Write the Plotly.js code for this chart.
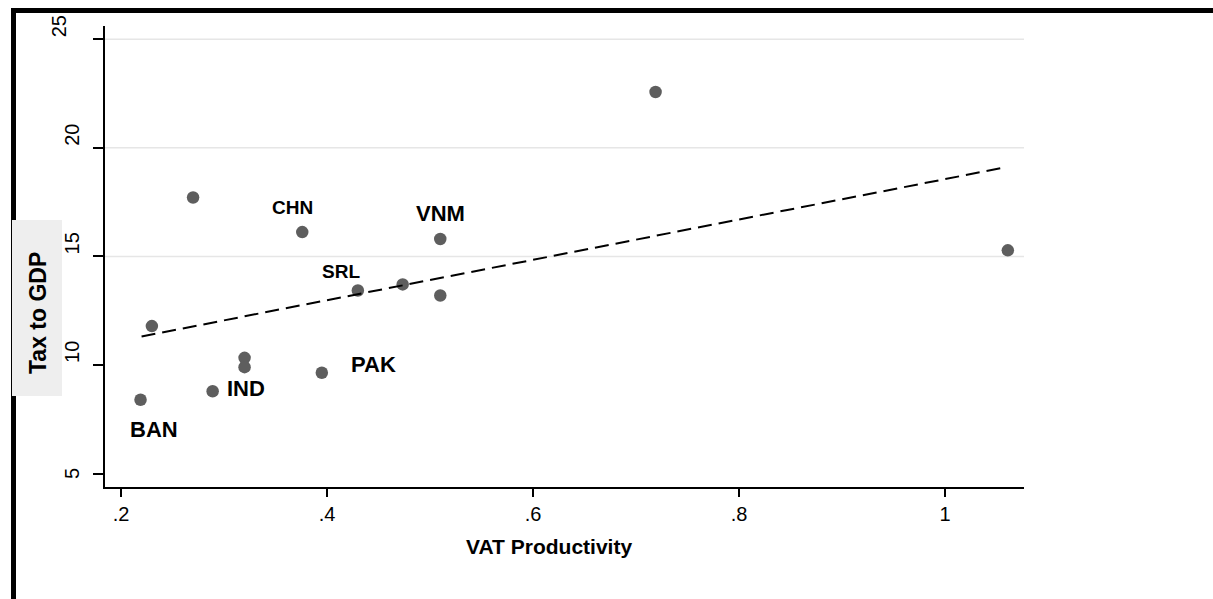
<!DOCTYPE html>
<html>
<head>
<meta charset="utf-8">
<script src="https://cdn.plot.ly/plotly-3.0.1.min.js"></script>
<style>
html, body { margin: 0; padding: 0; background: #ffffff; }
#frame { position: absolute; left: 11px; top: 8px; width: 1202px; height: 591px;
         border-top: 5px solid #000; border-left: 5px solid #000; box-sizing: border-box; }
#chart { position: absolute; left: 0; top: 0; width: 1213px; height: 599px; }
</style>
</head>
<body>
<div id="frame"></div>
<div id="chart"></div>
<script>
// ---- data ----
const vatProductivity = [0.219, 0.230, 0.270, 0.289, 0.320, 0.320, 0.376, 0.395, 0.430, 0.4735, 0.510, 0.510, 0.719, 1.061];
const taxToGDP        = [8.40, 11.79, 17.71, 8.79, 10.33, 9.90, 16.12, 9.64, 13.43, 13.71, 15.80, 13.20, 22.57, 15.28];
const countryLabels   = ['BAN', '', '', 'IND', '', '', 'CHN', 'PAK', 'SRL', '', 'VNM', '', '', ''];
const fitX = [0.22, 1.055];
const fitY = [11.31, 19.07];
const xTickVals = [0.2, 0.4, 0.6, 0.8, 1];
const xTickText = ['.2', '.4', '.6', '.8', '1'];
const yTickVals = [5, 10, 15, 20, 25];
const yTickText = ['5', '10', '15', '20', '25'];
const yGridVals = [15, 20, 25];
const xTitle = 'VAT Productivity';
const yTitle = 'Tax to GDP';

// ---- layout / style (positions in pixels, kept apart from the data) ----
const FONT = 'Liberation Sans, Arial, sans-serif';
const W = 1213, H = 599;
const M = { l: 105, r: 189, t: 26, b: 112 };
const PW = W - M.l - M.r, PH = H - M.t - M.b;
const px2paperX = px => (px - M.l) / PW;
const px2paperY = py => (H - M.b - py) / PH;

const labelStyle = {
  BAN: { dx: 13, dy: 30, size: 22 },
  IND: { dx: 33, dy: -3, size: 22 },
  CHN: { dx: -10, dy: -25, size: 19 },
  VNM: { dx: 0, dy: -26, size: 22 },
  SRL: { dx: -17, dy: -19, size: 19 },
  PAK: { dx: 52, dy: -8, size: 22 }
};
const yTickShift = { '5': { xs: 0, ys: -8 }, '25': { xs: -13, ys: 0 } };

const annotations = [];
countryLabels.forEach((name, i) => {
  if (!name) return;
  const s = labelStyle[name];
  annotations.push({
    x: vatProductivity[i], y: taxToGDP[i], xref: 'x', yref: 'y',
    text: name, showarrow: false, xanchor: 'center', yanchor: 'middle',
    xshift: s.dx, yshift: -s.dy,
    font: { family: FONT, size: s.size, color: '#000', weight: 700 }
  });
});
yTickVals.forEach((v, i) => {
  const sh = yTickShift[yTickText[i]] || { xs: 0, ys: 0 };
  annotations.push({
    x: px2paperX(72), xref: 'paper', y: v, yref: 'y',
    text: yTickText[i], showarrow: false, textangle: -90,
    xanchor: 'center', yanchor: 'bottom', xshift: sh.xs, yshift: sh.ys,
    font: { family: FONT, size: 20, color: '#000' }
  });
});
annotations.push({
  x: px2paperX(548.7), y: px2paperY(546), xref: 'paper', yref: 'paper',
  text: xTitle, showarrow: false, xanchor: 'center', yanchor: 'middle',
  font: { family: FONT, size: 21, color: '#000', weight: 700 }
});
annotations.push({
  x: px2paperX(38), y: px2paperY(313), xref: 'paper', yref: 'paper',
  text: yTitle, showarrow: false, textangle: -90, xanchor: 'center', yanchor: 'middle',
  font: { family: FONT, size: 23, color: '#000', weight: 700 }
});

const shapes = yGridVals.map(g => ({
  type: 'line', xref: 'paper', x0: 0, x1: 1, yref: 'y', y0: g, y1: g,
  line: { color: '#e6e6e6', width: 1.5 }, layer: 'below'
}));
shapes.push({
  type: 'rect', xref: 'paper', yref: 'paper',
  x0: px2paperX(12), x1: px2paperX(62), y0: px2paperY(396), y1: px2paperY(220),
  fillcolor: '#eeeeee', line: { width: 0 }, layer: 'above'
});

const traces = [
  {
    type: 'scatter', mode: 'markers', x: vatProductivity, y: taxToGDP,
    marker: { color: '#5e5e5e', size: 12.5, line: { width: 0 } },
    hoverinfo: 'x+y', showlegend: false
  },
  {
    type: 'scatter', mode: 'lines', x: fitX, y: fitY,
    line: { color: '#000', width: 2, dash: '14px,7px' },
    hoverinfo: 'skip', showlegend: false
  }
];

const layout = {
  width: W, height: H,
  margin: M,
  paper_bgcolor: 'rgba(0,0,0,0)',
  plot_bgcolor: '#ffffff',
  font: { family: FONT, color: '#000' },
  showlegend: false,
  xaxis: {
    range: [0.1845, 1.0767], tickmode: 'array', tickvals: xTickVals, ticktext: xTickText,
    ticks: 'outside', ticklen: 8, tickwidth: 2, tickcolor: '#000',
    showline: true, linecolor: '#000', linewidth: 2, mirror: false,
    showgrid: false, zeroline: false,
    tickfont: { family: FONT, size: 20, color: '#000' }
  },
  yaxis: {
    range: [4.38, 25.61], tickmode: 'array', tickvals: yTickVals, ticktext: yTickText,
    ticks: 'outside', ticklen: 10, tickwidth: 2, tickcolor: '#000',
    showticklabels: false,
    showline: true, linecolor: '#000', linewidth: 2, mirror: false,
    showgrid: false, zeroline: false
  },
  shapes: shapes,
  annotations: annotations
};

Plotly.newPlot('chart', traces, layout, { displayModeBar: false, staticPlot: true });
</script>
</body>
</html>
